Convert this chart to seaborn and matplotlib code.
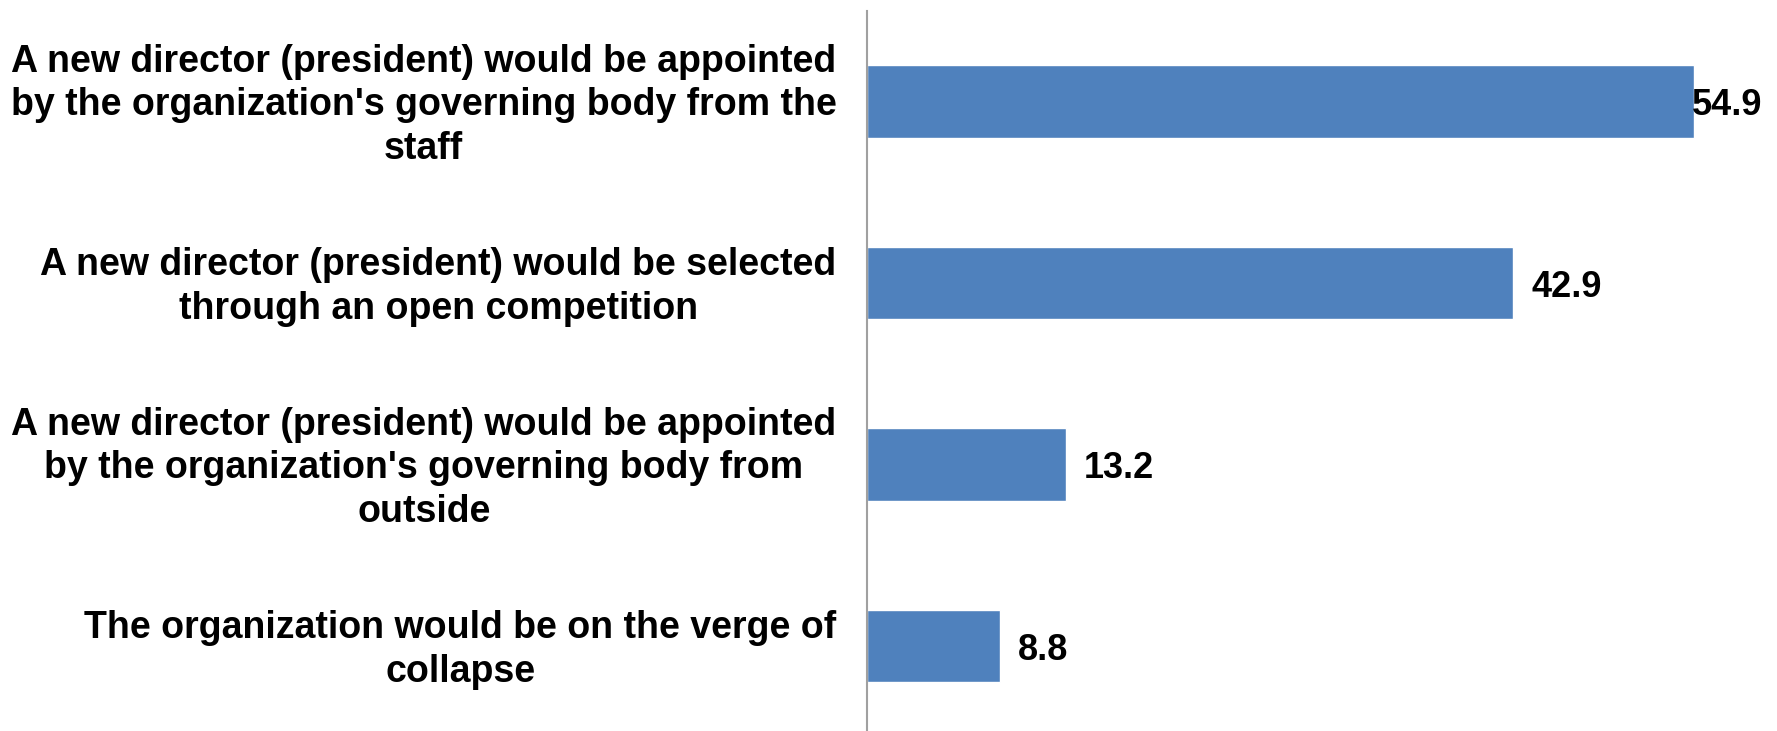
import matplotlib
matplotlib.use("Agg")
import matplotlib.pyplot as plt
import matplotlib.transforms as mtransforms
import seaborn as sns
import pandas as pd

categories = [
    "A new director (president) would be appointed\nby the organization's governing body from the\nstaff",
    "A new director (president) would be selected\nthrough an open competition",
    "A new director (president) would be appointed\nby the organization's governing body from\noutside",
    "The organization would be on the verge of\ncollapse",
]
values = [54.9, 42.9, 13.2, 8.8]
value_labels = ["54.9", "42.9", "13.2", "8.8"]

sns.set_theme(style="white")
plt.rcParams["font.family"] = ["Liberation Sans", "DejaVu Sans"]
plt.rcParams["font.weight"] = "bold"

df = pd.DataFrame({"category": categories, "value": values})

fig = plt.figure(figsize=(17.77, 7.31), dpi=100)
ax = fig.add_axes([867 / 1777, -0.008, 1 - 867 / 1777 - 0.0034, 0.993])

sns.barplot(data=df, x="value", y="category", orient="h", color="#4F81BD",
            saturation=1, width=0.4, ax=ax)

ax.set_xlim(0, 60)
ax.set_ylim(3.5, -0.5)
ax.set_xlabel("")
ax.set_ylabel("")
ax.set_xticks([])
ax.tick_params(axis="y", length=0, pad=22)
lift = mtransforms.ScaledTranslation(0, 3 / 72, fig.dpi_scale_trans)
for lbl in ax.get_yticklabels():
    lbl.set_fontsize(27)
    lbl.set_fontweight("bold")
    lbl.set_multialignment("center")
    lbl.set_linespacing(1.27)
    lbl.set_color("black")
    lbl.set_transform(lbl.get_transform() + lift)

for side in ["top", "right", "bottom"]:
    ax.spines[side].set_visible(False)
ax.spines["left"].set_color("#A0A0A0")
ax.spines["left"].set_linewidth(1.5)

# value labels just past each bar end, kept inside the plot area
fig.canvas.draw()
renderer = fig.canvas.get_renderer()
right_px = ax.transData.transform((60, 0))[0] - 9
for i, (v, txt) in enumerate(zip(values, value_labels)):
    t = ax.annotate(txt, xy=(v, i), xytext=(13, 0), textcoords="offset points",
                    ha="left", va="center_baseline", fontsize=26,
                    fontweight="bold", color="black")
    bb = t.get_window_extent(renderer)
    if bb.x1 > right_px:
        t.set_position((13 - (bb.x1 - right_px) * 72 / fig.dpi, 0))

fig.savefig("out.png", dpi=100)
